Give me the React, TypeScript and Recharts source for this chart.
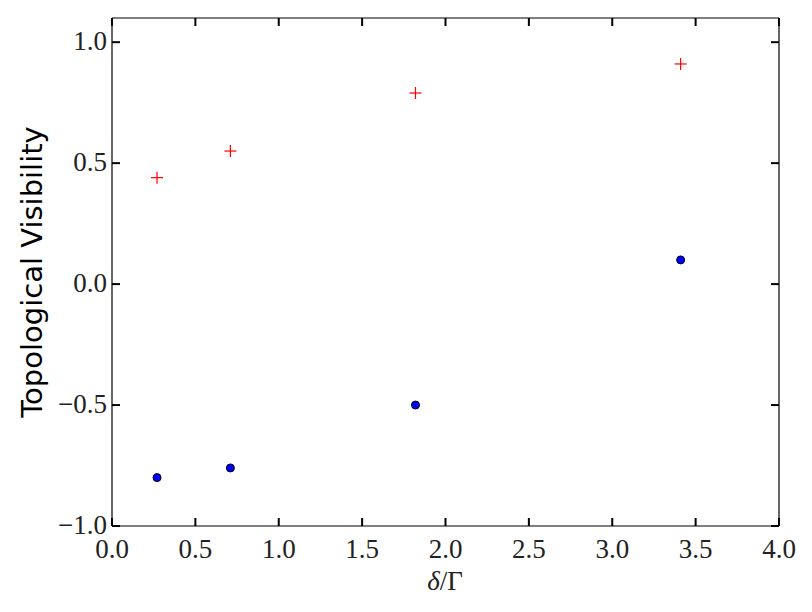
import React from 'react';
import { ScatterChart, Scatter, XAxis, YAxis, Label } from 'recharts';

// delta / Gamma values
const ratio = [0.27, 0.71, 1.82, 3.41];
const visibilityPlus = [0.44, 0.55, 0.79, 0.91];
const visibilityDot = [-0.80, -0.76, -0.50, 0.10];
const xTicks = [0, 0.5, 1, 1.5, 2, 2.5, 3, 3.5, 4];
const yTicks = [-1, -0.5, 0, 0.5, 1];

const plusData = ratio.map((r, i) => ({ x: r, y: visibilityPlus[i] }));
const dotData = ratio.map((r, i) => ({ x: r, y: visibilityDot[i] }));

const TICK_FONT = '"Liberation Serif", "DejaVu Serif", serif';
const M = 10; // tickMargin
const TL = 8; // inward tick length

const fmt = (v: number) => {
  const s = Math.abs(v).toFixed(1);
  return v < 0 ? '\u2212' + s : s;
};

const BottomTick = (props: any) => {
  const { x, y, payload } = props;
  const ay = y - M;
  return (
    <g>
      <line x1={x} y1={ay} x2={x} y2={ay - TL} stroke="#000" strokeWidth={2} />
      <text x={x} y={y + 2} dy="0.74em" textAnchor="middle" fontFamily={TICK_FONT} fontSize={27} fill="#222">
        {fmt(payload.value)}
      </text>
    </g>
  );
};

const LeftTick = (props: any) => {
  const { x, y, payload } = props;
  const ax = x + M;
  return (
    <g>
      <line x1={ax} y1={y} x2={ax + TL} y2={y} stroke="#000" strokeWidth={2} />
      <text x={x + 5} y={y - 1} dy="0.33em" textAnchor="end" fontFamily={TICK_FONT} fontSize={27} fill="#222">
        {fmt(payload.value)}
      </text>
    </g>
  );
};

const TopTick = (props: any) => {
  const { x, y } = props;
  const ay = y + M;
  return <line x1={x} y1={ay} x2={x} y2={ay + TL} stroke="#000" strokeWidth={2} />;
};

const RightTick = (props: any) => {
  const { x, y } = props;
  const ax = x - M;
  return <line x1={ax} y1={y} x2={ax - TL} y2={y} stroke="#000" strokeWidth={2} />;
};

const PlusShape = (props: any) => {
  const { cx, cy } = props;
  return (
    <g>
      <line x1={cx - 6} y1={cy} x2={cx + 6} y2={cy} stroke="#ff0000" strokeWidth={1.2} />
      <line x1={cx} y1={cy - 6} x2={cx} y2={cy + 6} stroke="#ff0000" strokeWidth={1.2} />
    </g>
  );
};

const DotShape = (props: any) => {
  const { cx, cy } = props;
  return <circle cx={cx} cy={cy} r={4} fill="#0000ff" stroke="#000" strokeWidth={1} />;
};

export default function App() {
  return (
    <div style={{ position: 'absolute', left: 0, top: 0, width: 812, height: 612, background: '#fff' }}>
      <ScatterChart width={812} height={612} margin={{ top: 8, right: 23, bottom: 46, left: 52 }}>
        <XAxis
          type="number"
          dataKey="x"
          domain={[0, 4]}
          ticks={xTicks}
          interval={0}
          height={40}
          tickSize={0}
          tickMargin={M}
          tick={<BottomTick />}
          axisLine={{ stroke: '#000', strokeWidth: 1.2 }}
          allowDataOverflow
        >
          <Label
            content={() => (
              <text x={445} y={590} textAnchor="middle" fontFamily={TICK_FONT} fontSize={27} fill="#222">
                <tspan fontStyle="italic">δ</tspan>
                <tspan>/Γ</tspan>
              </text>
            )}
          />
        </XAxis>
        <XAxis
          xAxisId="top"
          orientation="top"
          type="number"
          dataKey="x"
          domain={[0, 4]}
          ticks={xTicks}
          interval={0}
          height={10}
          tickSize={0}
          tickMargin={M}
          tick={<TopTick />}
          axisLine={{ stroke: '#000', strokeWidth: 1.2 }}
          allowDataOverflow
        />
        <YAxis
          type="number"
          dataKey="y"
          domain={[-1, 1.1]}
          ticks={yTicks}
          interval={0}
          width={60}
          tickSize={0}
          tickMargin={M}
          tick={<LeftTick />}
          axisLine={{ stroke: '#000', strokeWidth: 1.2 }}
          allowDataOverflow
        >
          <Label
            content={() => (
              <text
                x={32}
                y={272}
                transform="rotate(-90, 32, 272)"
                textAnchor="middle"
                dominantBaseline="central"
                fontFamily='"DejaVu Sans", sans-serif'
                fontSize={29}
                fill="#000"
              >
                Topological Visibility
              </text>
            )}
          />
        </YAxis>
        <YAxis
          yAxisId="right"
          orientation="right"
          type="number"
          dataKey="y"
          domain={[-1, 1.1]}
          ticks={yTicks}
          interval={0}
          width={10}
          tickSize={0}
          tickMargin={M}
          tick={<RightTick />}
          axisLine={{ stroke: '#000', strokeWidth: 1.2 }}
          allowDataOverflow
        />
        <Scatter data={plusData} shape={<PlusShape />} isAnimationActive={false} />
        <Scatter data={dotData} shape={<DotShape />} isAnimationActive={false} />
      </ScatterChart>
    </div>
  );
}
